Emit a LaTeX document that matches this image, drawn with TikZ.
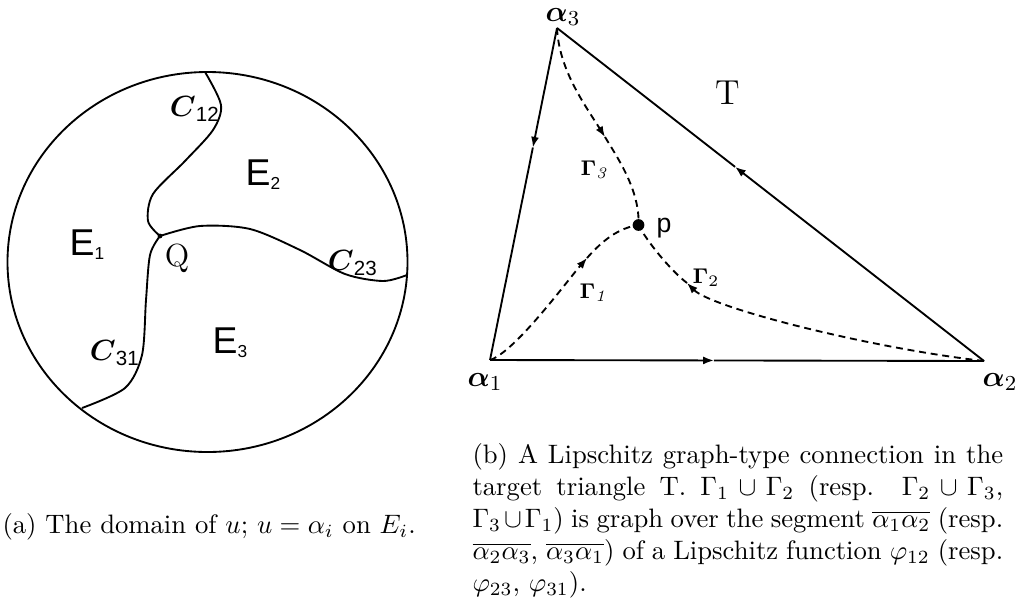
\documentclass[tikz,border=0pt]{standalone}
\usepackage{amsmath}
\usepackage{fontspec}
\newfontfamily\labelsf{Liberation Sans}
\usetikzlibrary{arrows.meta, calc}

\newcommand{\Elabel}[1]{{\labelsf\fontsize{14}{16}\selectfont E\raisebox{-1.4pt}{\fontsize{6.5}{7}\selectfont #1}}}
\newcommand{\Clabel}[1]{{\fontsize{11}{13}\selectfont$\boldsymbol{C}_{\text{\labelsf #1}}$}}
\newcommand{\Alabel}[1]{{\fontsize{11}{13}\selectfont$\boldsymbol{\alpha}_{#1}$}}

\tikzset{
  curve/.style={line width=0.7pt},
  path/.style={line width=0.7pt, dash pattern=on 2.6pt off 1.8pt},
  midarrow/.style={-{Latex[length=4pt,width=3pt]}}
}

\begin{document}
\begin{tikzpicture}[x=0.375pt, y=-0.375pt]
        \useasboundingbox (0,0) rectangle (1015,608);
        % domain of u
        \draw[curve] (207.5,262) ellipse [x radius=200, y radius=190];
        \coordinate (Q) at (160,236);
        \coordinate (e12) at (205,72);
        \coordinate (e23) at (407,275);
        \coordinate (e31) at (82,408);
        \draw[curve] plot[smooth] coordinates {(Q) (148,221) (153,194) (185,161) (213,130) (221,105) (e12)};
        \draw[curve] plot[smooth] coordinates {(Q) (200,226) (250,229) (300,250) (345,274) (383,281) (e23)};
        \draw[curve] plot[smooth] coordinates {(Q) (150,255) (146,300) (142,355) (125,388) (e31)};
        \fill (Q) circle (0.9pt);
        \node (E1) at (87,245) {\Elabel{1}};
        \node (E2) at (263,175) {\Elabel{2}};
        \node (E3) at (230,343) {\Elabel{3}};
        \node (C12) at (195,109) {\Clabel{12}};
        \node (C23) at (353,263) {\Clabel{23}};
        \node (C31) at (115,353) {\Clabel{31}};
        \node (Qlab) at (177,258) {\fontsize{12}{14}\selectfont Q};
        \node[anchor=base west, inner sep=0] (capa) at (2,533) {(a) The domain of $u$; $u=\alpha_i$ on $E_i$.};
        % target triangle
        \coordinate (A1) at (490,360);
        \coordinate (A2) at (984,361);
        \coordinate (A3) at (557,28);
        \coordinate (P) at (638.5,225);
        \coordinate (m31) at ($(A3)!0.36!(A1)$);
        \coordinate (m12) at ($(A1)!0.453!(A2)$);
        \coordinate (m23) at ($(A2)!0.583!(A3)$);
        \draw[curve, midarrow] (A3) -- (m31); \draw[curve] (m31) -- (A1);
        \draw[curve, midarrow] (A1) -- (m12); \draw[curve] (m12) -- (A2);
        \draw[curve, midarrow] (A2) -- (m23); \draw[curve] (m23) -- (A3);
        % the three paths
        \coordinate (g3) at (605,137);
        \coordinate (g1) at (587,258);
        \coordinate (g2) at (687,283);
        \draw[path, midarrow] (A3) .. controls (559,70) and (585,105) .. (g3);
        \draw[path] (g3) .. controls (617,157) and (640,190) .. (P);
        \draw[path, midarrow] (A1) .. controls (515,352) and (567,281) .. (g1);
        \draw[path] (g1) .. controls (602,241) and (618,228) .. (P);
        \draw[path, midarrow] (A2) .. controls (870,348) and (712,308) .. (g2);
        \draw[path] (g2) .. controls (670,270) and (646,240) .. (P);
        \fill (P) circle (2.2pt);
        \node (A1lab) at (485,382) {\Alabel{1}};
        \node (A2lab) at (1000,382) {\Alabel{2}};
        \node (A3lab) at (563,17) {\Alabel{3}};
        \node (Tlab) at (728,93) {\fontsize{13}{15}\selectfont T};
        \node (plab) at (664,228) {\labelsf p};
        \node (G3) at (594,170) {\footnotesize$\boldsymbol{\Gamma}_{\mathit{3}}$};
        \node (G1) at (593,293) {\footnotesize$\boldsymbol{\Gamma}_{\mathit{1}}$};
        \node (G2) at (706,278) {\footnotesize$\boldsymbol{\Gamma}_{2}$};
        \node[anchor=north west, inner sep=0, text width=199pt, align=justify] (capb) at (472,443) {(b) A Lipschitz graph-type connection in the target triangle T.  $\Gamma_1\cup\Gamma_2$ (resp. $\Gamma_2\cup\Gamma_3$, $\Gamma_3\cup\Gamma_1$) is graph over the segment $\overline{\alpha_1\alpha_2}$ (resp. $\overline{\alpha_2\alpha_3}$, $\overline{\alpha_3\alpha_1}$) of a Lipschitz function $\varphi_{12}$ (resp. $\varphi_{23}$, $\varphi_{31}$).};
    \end{tikzpicture}
\end{document}
